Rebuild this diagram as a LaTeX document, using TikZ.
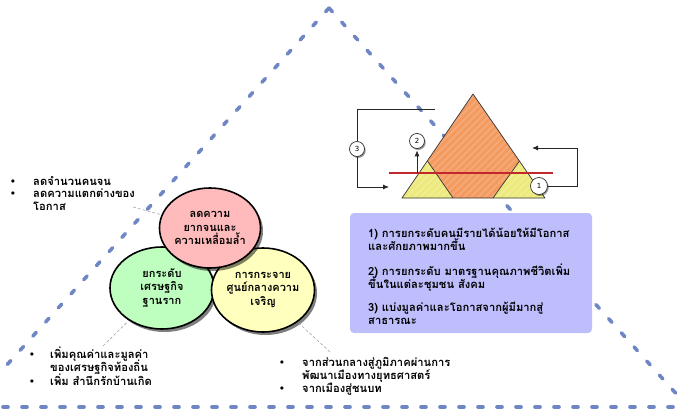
\documentclass[tikz,border=0pt]{standalone}
\usepackage{fontspec}
\newfontfamily\thai[Script=Thai]{Loma}
\newfontfamily\numf{DejaVu Sans}
\usetikzlibrary{shapes.geometric,shadows,arrows.meta}
\definecolor{dashblue}{HTML}{6F86C4}
\definecolor{pinkc}{HTML}{FFBBBB}
\definecolor{greenc}{HTML}{BEFEBE}
\definecolor{yellowc}{HTML}{FFFFBE}
\definecolor{orangec}{HTML}{F49A5E}
\definecolor{orangel}{HTML}{F5A878}
\definecolor{yellowt}{HTML}{EDE97C}
\definecolor{yellowl}{HTML}{F1EE96}
\definecolor{boxc}{HTML}{BEBEFC}
\definecolor{redc}{HTML}{C0282D}
\begin{document}
\begin{tikzpicture}[x=1pt,y=-1pt,
  bigdash/.style={draw=dashblue,line width=3.6pt,line cap=round,dash pattern=on 5pt off 14pt},
  bubble/.style={ellipse,draw=black,line width=1.6pt,inner sep=0pt,align=center,
    font=\thai\bfseries\fontsize{11}{13.5}\selectfont,
    drop shadow={shadow xshift=2.5pt,shadow yshift=-3pt,opacity=0.5,fill=black}},
  graydash/.style={draw=gray!70,line width=0.6pt,dash pattern=on 3pt off 2pt},
  thaitext/.style={anchor=base west,inner sep=0pt,font=\thai\bfseries\fontsize{11.2}{12}\selectfont},
  bul/.style={anchor=center,inner sep=0pt,font=\fontsize{8}{8}\selectfont},
  numc/.style={circle,draw=black!80,line width=0.7pt,fill=white,minimum size=15pt,inner sep=0pt,
    font=\numf\fontsize{7}{8}\selectfont,
    drop shadow={shadow xshift=1.2pt,shadow yshift=-1.5pt,opacity=0.4,fill=black}},
  bracket/.style={draw=black!85,line width=0.8pt},
  arr/.style={-{Latex[length=6pt,width=5pt]}},
  triedge/.style={draw=black!80,line width=0.7pt,line join=round},
  infobox/.style={rectangle,rounded corners=4pt,fill=boxc,minimum width=242pt,minimum height=120pt,inner sep=0pt}
]
\useasboundingbox (0,0) rectangle (683,412);
% big dashed triangle
\begin{scope}
\clip (0,0) rectangle (683,412);
\coordinate (apex) at (329,8);
\coordinate (bl) at (-32,408);
\coordinate (br) at (689,408);
\draw[bigdash] (apex) -- (bl);
\draw[bigdash] (apex) -- (br);
\draw[bigdash] (3,407) -- (683,407);
\end{scope}

% small triangle diagram
\coordinate (A) at (473,94);
\coordinate (BL) at (402,198);
\coordinate (BR) at (545,198);
\coordinate (YL) at (427.5,161);
\coordinate (YR) at (519.5,161);
\coordinate (ML) at (453,198);
\coordinate (MR) at (493,198);
\begin{scope}
\clip (A) -- (YL) -- (ML) -- (MR) -- (YR) -- cycle;
\fill[orangec] (390,85) rectangle (560,205);
\foreach \i in {0,7,...,320} \draw[orangel,line width=1.8pt] (250+\i,215) -- ++(140,-140);
\end{scope}
\begin{scope}
\clip (BL) -- (YL) -- (ML) -- cycle (MR) -- (YR) -- (BR) -- cycle;
\fill[yellowt] (395,155) rectangle (550,205);
\foreach \i in {0,7,...,200} \draw[yellowl,line width=1.5pt] (350+\i,205) -- ++(60,-60);
\end{scope}
\draw[triedge] (A) -- (BL) -- (BR) -- cycle;
\draw[triedge] (YL) -- (ML);
\draw[triedge] (YR) -- (MR);
\coordinate (rl) at (389,173);
\coordinate (rr) at (553,173);
\draw[redc,line width=1.4pt] (rl) -- (rr);

% number circles and brackets
\node[numc] (n3) at (357,149) {3};
\node[numc] (n2) at (417,141) {2};
\node[numc,minimum width=17pt,minimum height=15pt] (n1) at (539,186) {1};
\coordinate (b3top) at (435,109);
\coordinate (b3end) at (389,187);
\draw[bracket] (b3top) -| (n3.north);
\draw[bracket,arr] (n3.south) |- (b3end);
\coordinate (a2) at (417,173);
\draw[bracket,arr,shorten >=1.5pt] (a2) -- (n2.south);
\coordinate (b1c) at (577,148);
\coordinate (b1tip) at (532,148);
\draw[bracket] (n1.east) -| (b1c);
\draw[bracket,arr] (b1c) -- (b1tip);

% info box
\node[infobox] (info) at (471,273) {};
\node[thaitext] (i1a) at (368,237) {1) การยกระดับคนมีรายได้น้อยให้มีโอกาส};
\node[thaitext] (i1b) at (368,250.5) {และศักยภาพมากขึ้น};
\node[thaitext] (i2a) at (368,275.5) {2) การยกระดับ มาตรฐานคุณภาพชีวิตเพิ่ม};
\node[thaitext] (i2b) at (368,288) {ขึ้นในแต่ละชุมชน สังคม};
\node[thaitext] (i3a) at (368,311) {3) แบ่งมูลค่าและโอกาสจากผู้มีมากสู่};
\node[thaitext] (i3b) at (368,324.5) {สาธารณะ};

% bubbles
\node[bubble,fill=greenc,minimum width=104pt,minimum height=82pt] (green) at (162,288)
  {ยกระดับ\\เศรษฐกิจ\\ฐานราก};
\node[bubble,fill=yellowc,minimum width=102pt,minimum height=84pt] (yellow) at (263,290)
  {การกระจาย\\ศูนย์กลางความ\\เจริญ};
\node[bubble,fill=pinkc,minimum width=98pt,minimum height=80pt] (pink) at (210,228)
  {ลดความ\\ยากจนและ\\ความเหลื่อมล้ำ};

% top-left bullets
\node[bul] (tb1) at (13,182) {$\bullet$};
\node[thaitext] (tt1) at (33,185.5) {ลดจำนวนคนจน};
\node[bul] (tb2) at (13,194) {$\bullet$};
\node[thaitext] (tt2) at (33,197.5) {ลดความแตกต่างของ};
\node[thaitext] (tt3) at (33,210.5) {โอกาส};
\coordinate (c1) at (133,207);
\draw[graydash] (c1) -- (pink);

% bottom-left bullets
\node[bul] (lb1) at (32,355) {$\bullet$};
\node[thaitext] (lt1) at (50,358.5) {เพิ่มคุณค่าและมูลค่า};
\node[thaitext] (lt2) at (50,371.5) {ของเศรษฐกิจท้องถิ่น};
\node[bul] (lb2) at (32,382) {$\bullet$};
\node[thaitext] (lt3) at (50,385.5) {เพิ่ม สำนึกรักบ้านเกิด};
\coordinate (c2) at (103,346);
\draw[graydash,shorten >=2pt] (c2) -- (green);

% bottom-right bullets
\node[bul] (rb1) at (282,363) {$\bullet$};
\node[thaitext] (rt1) at (302,366.5) {จากส่วนกลางสู่ภูมิภาคผ่านการ};
\node[thaitext] (rt2) at (302,379.5) {พัฒนาเมืองทางยุทธศาสตร์};
\node[bul] (rb2) at (282,388.5) {$\bullet$};
\node[thaitext] (rt3) at (302,392) {จากเมืองสู่ชนบท};
\coordinate (c3) at (330,352);
\draw[graydash,shorten >=2pt] (c3) -- (yellow);
\end{tikzpicture}
\end{document}
